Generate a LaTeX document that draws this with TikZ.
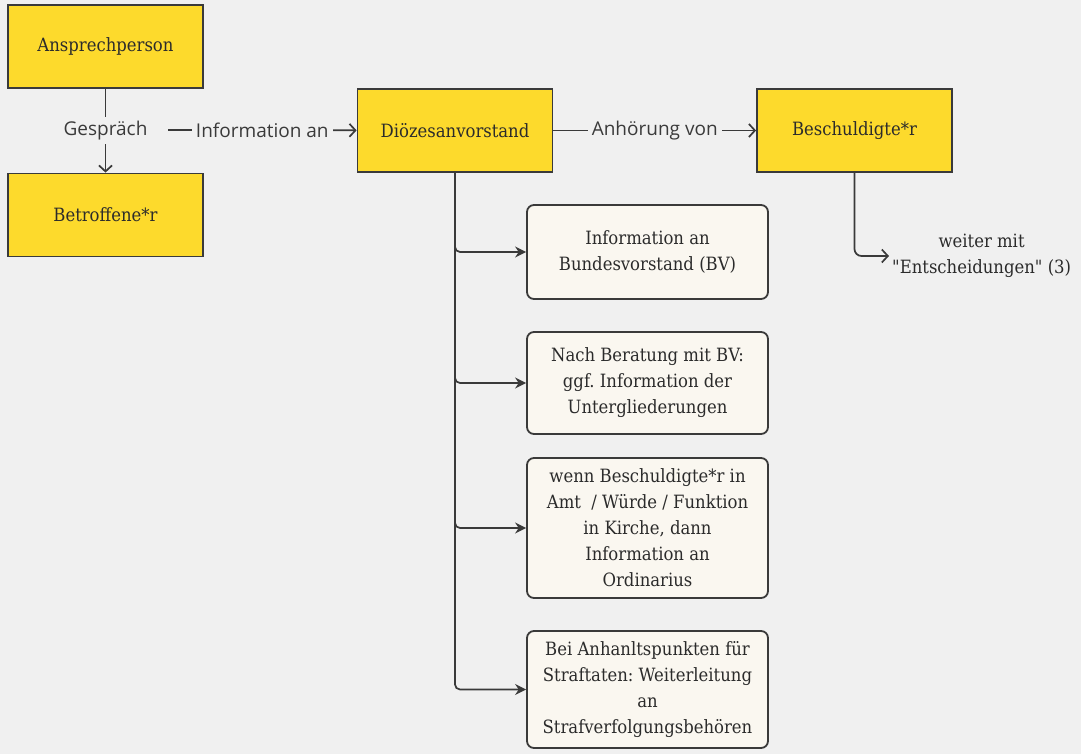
\documentclass[tikz,border=0pt]{standalone}
\usepackage{fontspec}
\newfontfamily\boxfont{DejaVu Serif Condensed}
\newfontfamily\labelfont{Open Sans}
\usetikzlibrary{arrows.meta}
\frenchspacing
\definecolor{bgc}{HTML}{F0F0F0}
\definecolor{yel}{HTML}{FDDA2C}
\definecolor{edgec}{HTML}{3A3A3A}
\definecolor{cream}{HTML}{FAF7F0}
\definecolor{txt}{HTML}{2B2B2B}
\tikzset{
  ybox/.style={draw=edgec, line width=1.8pt, fill=yel, minimum width=195pt, minimum height=83pt, inner sep=0pt, font=\boxfont\fontsize{18.3}{20}\selectfont, text=txt},
  cbox/.style={draw=edgec, line width=1.8pt, fill=cream, rounded corners=7pt, minimum width=241pt, align=center, inner sep=0pt, font=\boxfont\fontsize{18.3}{26}\selectfont, text=txt},
  conn/.style={draw=edgec, line width=1.7pt},
  openarr/.style={conn, -{Straight Barb[length=6pt,width=13pt]}},
  branch/.style={conn, -{Stealth[length=11pt,width=11pt]}, rounded corners=5pt},
  lbl/.style={fill=bgc, font=\labelfont\fontsize{19}{22}\selectfont, text=edgec, inner sep=4pt},
}
\begin{document}
\begin{tikzpicture}[x=1pt,y=-1pt]
\fill[bgc] (0,0) rectangle (1081,754);
\useasboundingbox (0,0) rectangle (1081,754);

\node[ybox] (ap) at (105.5,46.5) {Ansprechperson};
\node[ybox] (bt) at (105.5,215) {Betroffene*r};
\node[ybox] (dv) at (455,130.5) {Diözesanvorstand};
\node[ybox] (bs) at (854.5,130.5) {Beschuldigte*r};

\node[cbox, minimum height=94pt] (c1) at (647.5,252) {Information an\\Bundesvorstand (BV)};
\node[cbox, minimum height=102pt] (c2) at (647.5,383) {Nach Beratung mit BV:\\ggf. Information der\\Untergliederungen};
\node[cbox, minimum height=140pt] (c3) at (647.5,528) {wenn Beschuldigte*r in\\Amt \ / Würde / Funktion\\in Kirche, dann\\Information an\\Ordinarius};
\node[cbox, minimum height=117pt] (c4) at (647.5,689.5) {Bei Anhanltspunkten für\\Straftaten: Weiterleitung\\an\\Strafverfolgungsbehören};

\node[anchor=west, align=center, inner sep=3pt, font=\boxfont\fontsize{18.3}{26}\selectfont, text=txt] (wm) at (889,256) {weiter mit\\"Entscheidungen" (3)};
\coordinate (ia) at (168,130);

\draw[openarr] (ap) -- node[lbl]{Gespräch} (bt);
\draw[openarr] (ia) -- node[lbl]{Information an} (dv);
\draw[openarr] (dv) -- node[lbl]{Anhörung von} (bs);
\draw[openarr, rounded corners=7pt] (bs.south) |- (wm.west);

\draw[branch] (dv.south) |- (c1.west);
\draw[branch] (dv.south) |- (c2.west);
\draw[branch] (dv.south) |- (c3.west);
\draw[branch] (dv.south) |- (c4.west);
\end{tikzpicture}
\end{document}
